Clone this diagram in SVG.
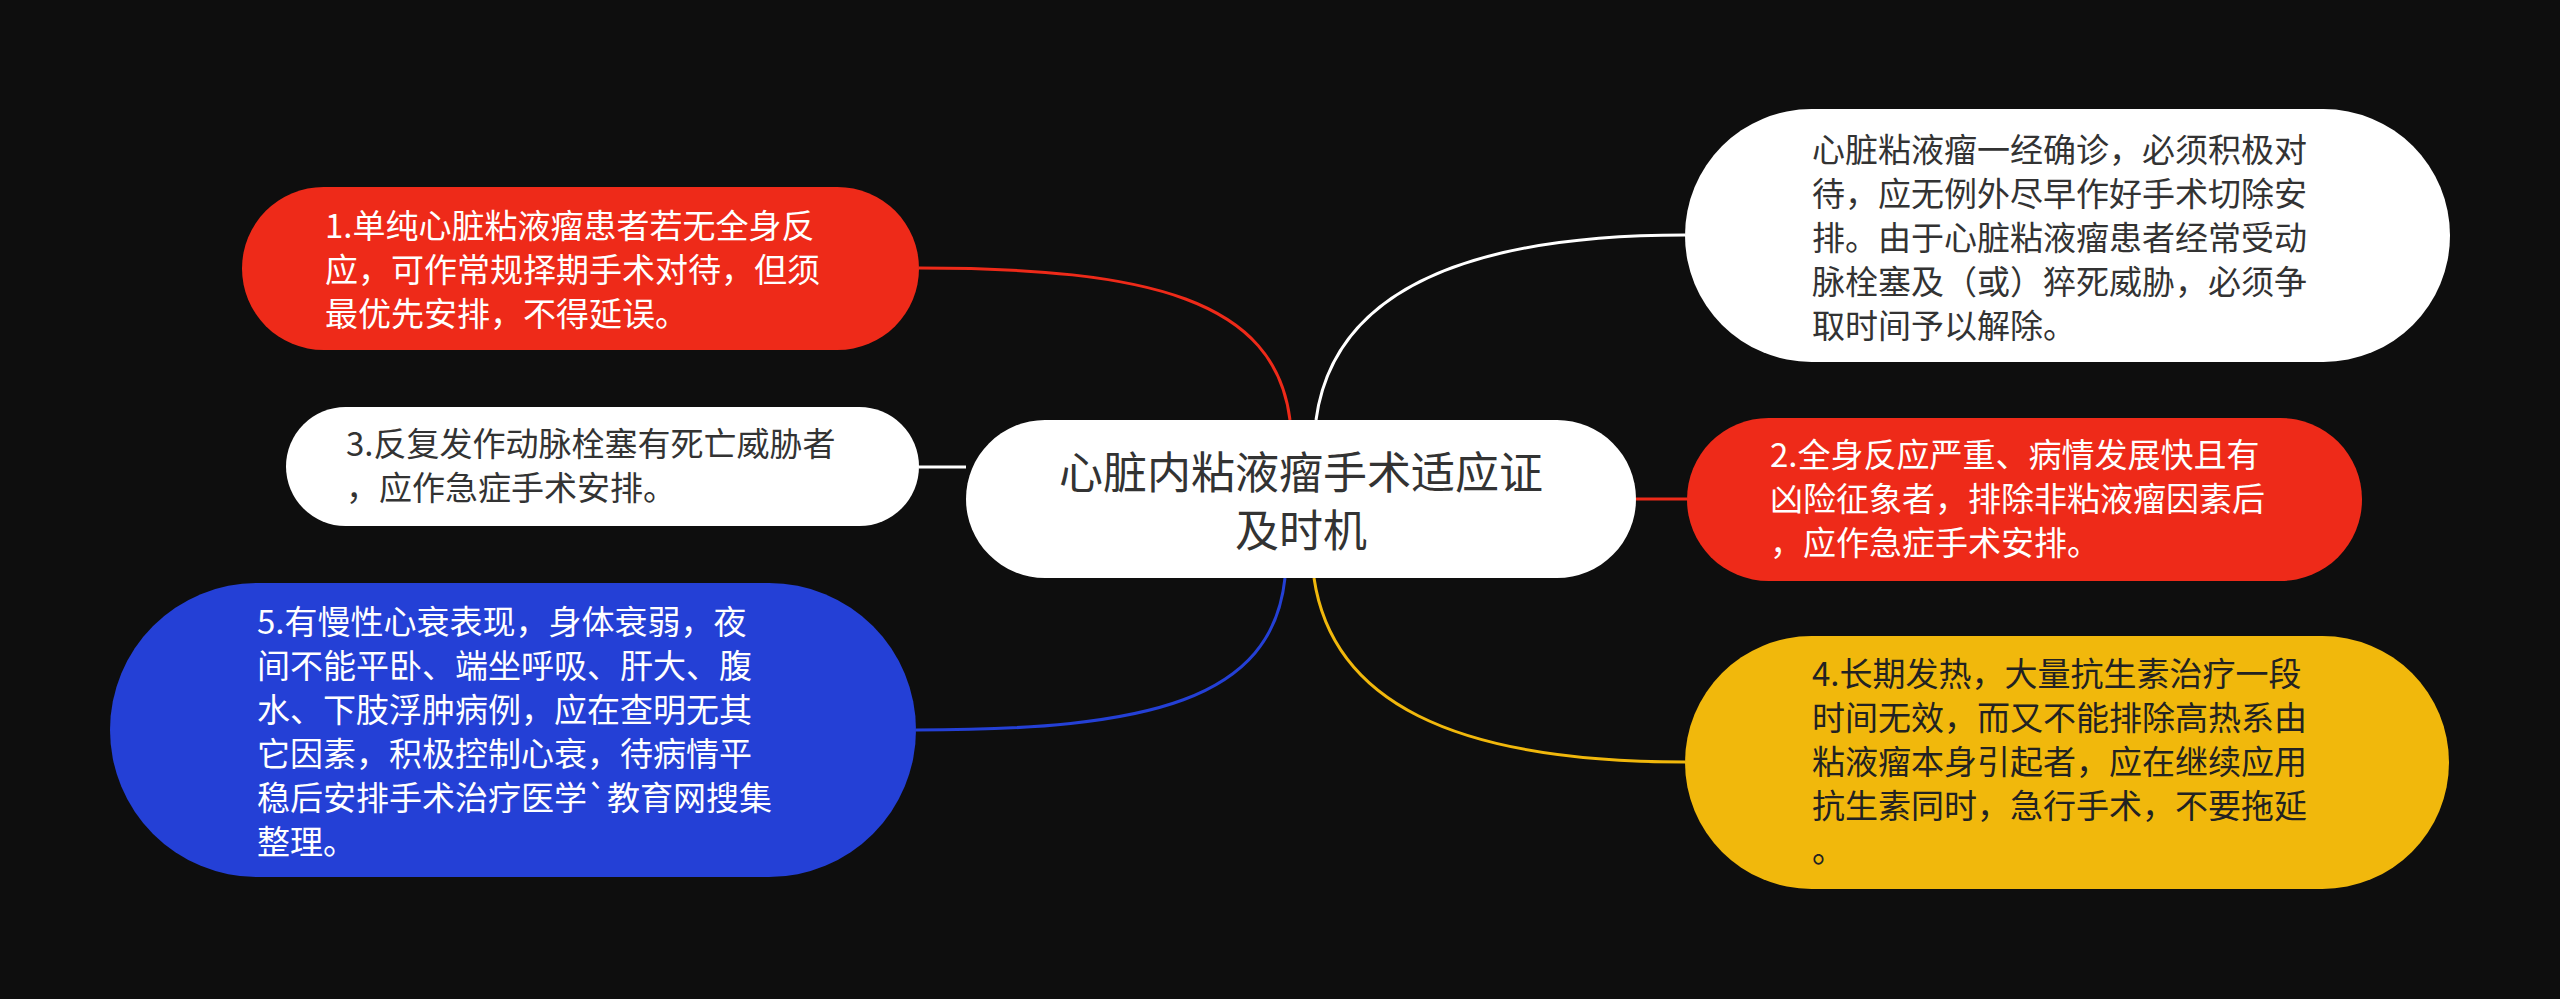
<svg xmlns="http://www.w3.org/2000/svg" width="2560" height="999" viewBox="0 0 2560 999">
<style>
.t{font-family:"Noto Sans CJK SC","Noto Sans",sans-serif;font-size:33px}
.w{fill:#ffffff}
.d{fill:#333333}
.c{fill:none;stroke-width:3}
</style>
<rect width="2560" height="999" fill="#0e0e0e"/>
<g id="connectors">
<path class="c" stroke="#ee2a19" d="M1290,420 C1275,300 1150,268 919,268"/>
<path class="c" stroke="#ffffff" d="M966,467 L919,467"/>
<path class="c" stroke="#2440d6" d="M1285,578 C1272,700 1150,730 916,730"/>
<path class="c" stroke="#ffffff" d="M1316,420 C1332,300 1450,235 1685,235"/>
<path class="c" stroke="#ee2a19" d="M1636,499 L1687,499"/>
<path class="c" stroke="#f1b80c" d="M1314,578 C1332,700 1450,762 1685,762"/>
</g>
<g id="center">
<rect x="966" y="420" width="670" height="158" rx="79" fill="#ffffff"/>
<text class="t" font-size="44" fill="#333333" text-anchor="middle" style="font-size:44px"><tspan x="1301" y="489">心脏内粘液瘤手术适应证</tspan><tspan x="1301" y="547">及时机</tspan></text>
</g>
<g id="node1">
<rect x="242" y="187" width="677" height="163" rx="81.5" fill="#ee2a19"/>
<text class="t w"><tspan x="325" y="238">1.单纯心脏粘液瘤患者若无全身反</tspan><tspan x="325" y="282">应，可作常规择期手术对待，但须</tspan><tspan x="325" y="326">最优先安排，不得延误。</tspan></text>
</g>
<g id="node3">
<rect x="286" y="407" width="633" height="119" rx="59.5" fill="#ffffff"/>
<text class="t d"><tspan x="346" y="456">3.反复发作动脉栓塞有死亡威胁者</tspan><tspan x="346" y="500">，应作急症手术安排。</tspan></text>
</g>
<g id="node5">
<rect x="110" y="583" width="806" height="294" rx="147" fill="#2440d6"/>
<text class="t w"><tspan x="257" y="634">5.有慢性心衰表现，身体衰弱，夜</tspan><tspan x="257" y="678">间不能平卧、端坐呼吸、肝大、腹</tspan><tspan x="257" y="722">水、下肢浮肿病例，应在查明无其</tspan><tspan x="257" y="766">它因素，积极控制心衰，待病情平</tspan><tspan x="257" y="810">稳后安排手术治疗医学`教育网搜集</tspan><tspan x="257" y="854">整理。</tspan></text>
</g>
<g id="node0">
<rect x="1685" y="109" width="765" height="253" rx="126.5" fill="#ffffff"/>
<text class="t d"><tspan x="1812" y="162">心脏粘液瘤一经确诊，必须积极对</tspan><tspan x="1812" y="206">待，应无例外尽早作好手术切除安</tspan><tspan x="1812" y="250">排。由于心脏粘液瘤患者经常受动</tspan><tspan x="1812" y="294">脉栓塞及（或）猝死威胁，必须争</tspan><tspan x="1812" y="338">取时间予以解除。</tspan></text>
</g>
<g id="node2">
<rect x="1687" y="418" width="675" height="163" rx="81.5" fill="#ee2a19"/>
<text class="t w"><tspan x="1770" y="467">2.全身反应严重、病情发展快且有</tspan><tspan x="1770" y="511">凶险征象者，排除非粘液瘤因素后</tspan><tspan x="1770" y="555">，应作急症手术安排。</tspan></text>
</g>
<g id="node4">
<rect x="1685" y="636" width="764" height="253" rx="126.5" fill="#f1b80c"/>
<text class="t" fill="#222222"><tspan x="1812" y="686">4.长期发热，大量抗生素治疗一段</tspan><tspan x="1812" y="730">时间无效，而又不能排除高热系由</tspan><tspan x="1812" y="774">粘液瘤本身引起者，应在继续应用</tspan><tspan x="1812" y="818">抗生素同时，急行手术，不要拖延</tspan><tspan x="1812" y="862">。</tspan></text>
</g>
</svg>
